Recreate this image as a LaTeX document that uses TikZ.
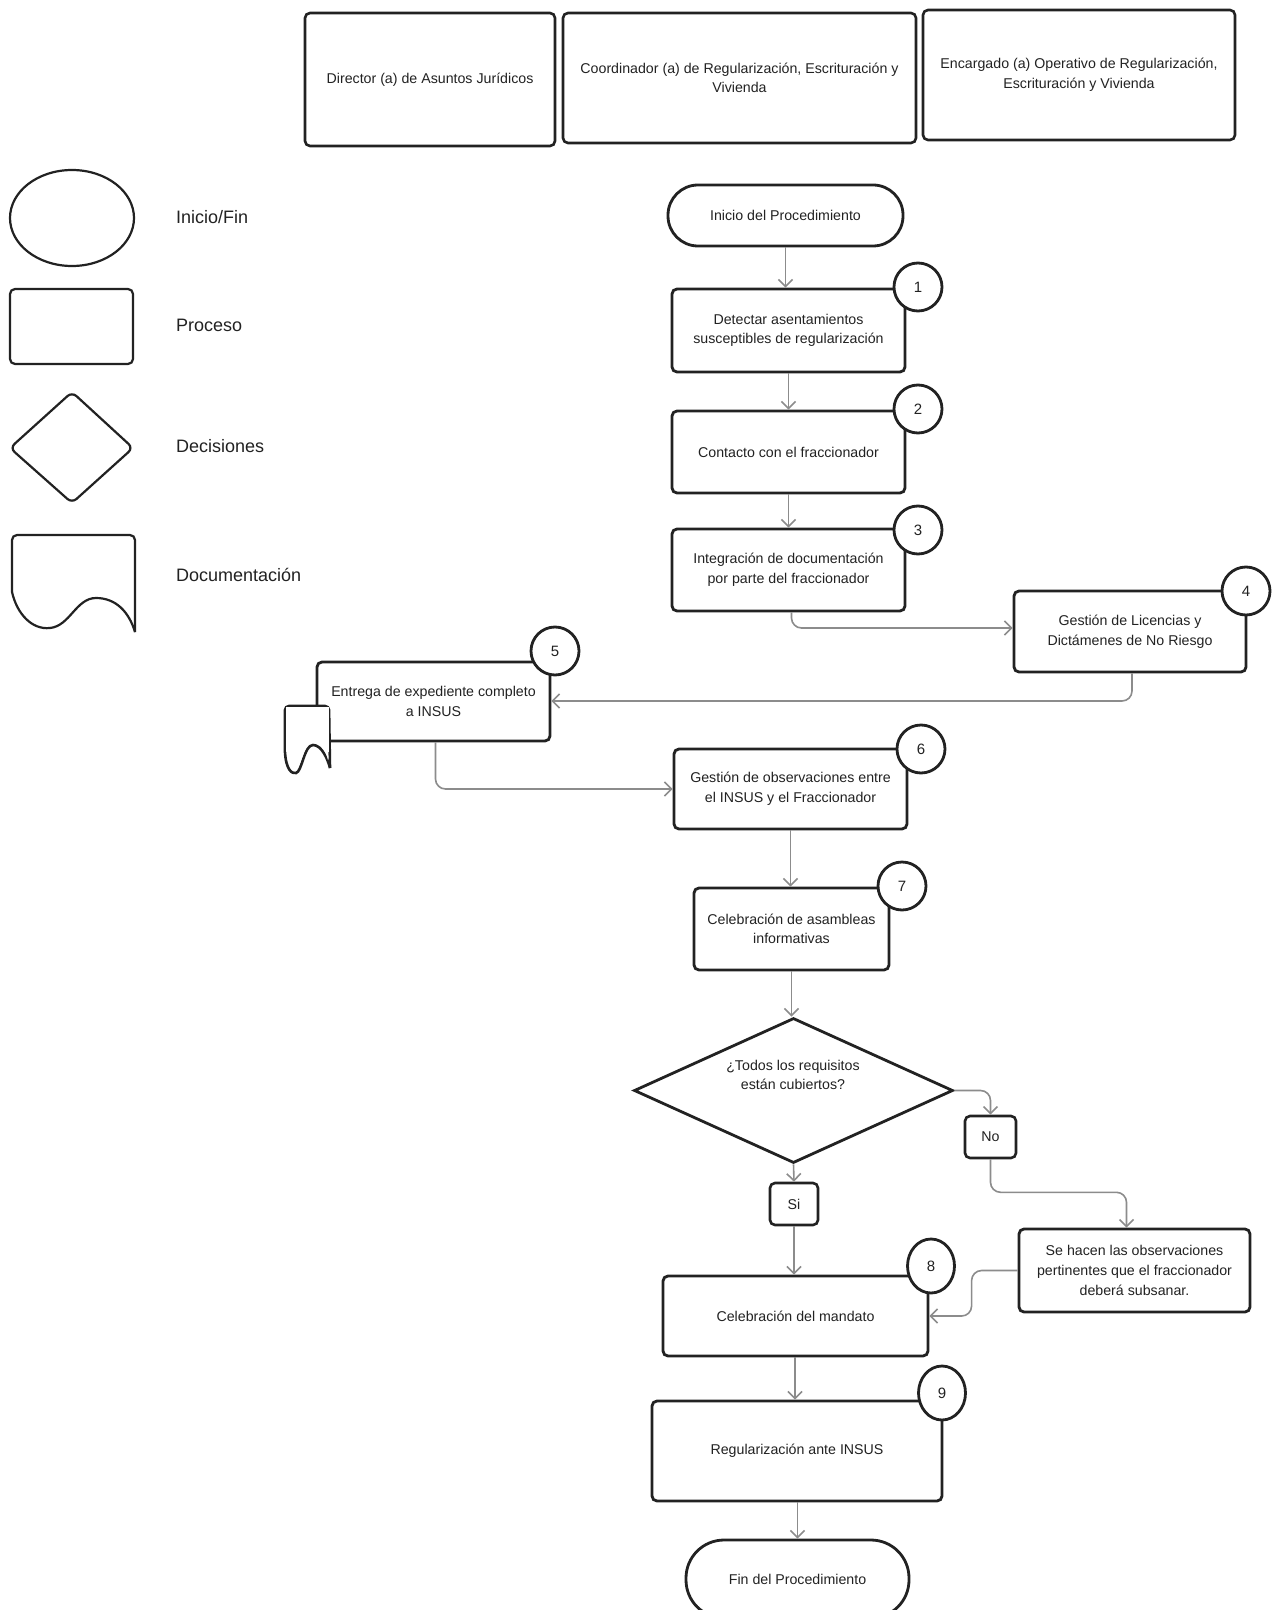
\documentclass[tikz,border=0pt]{standalone}
\usepackage{fontspec}
\setmainfont{Liberation Sans}
\usetikzlibrary{shapes.geometric,arrows.meta,calc}
\definecolor{ink}{HTML}{222222}
\definecolor{wire}{HTML}{8C8C8C}
% \mkbox[options]{name}{x1}{y1}{x2}{y2}{text}  (coordinates in pixels)
\newcommand\mkbox[7][]{%
  \pgfmathsetmacro\mkbw{(#5-#3)/2}%
  \pgfmathsetmacro\mkbh{(#6-#4)/2}%
  \node[box,minimum width=\mkbw pt,minimum height=\mkbh pt,#1] (#2) at ({(#3+#5)/2},{(#4+#6)/2}) {#7};}
\begin{document}
\begin{tikzpicture}[x=0.5pt,y=-0.5pt,
  every node/.style={font=\fontsize{7.1}{9.8}\selectfont, text=ink},
  box/.style={draw=ink, line width=1.4pt, rounded corners=2.5pt, fill=white, inner sep=0pt, align=center},
  num/.style={circle, draw=ink, line width=1.4pt, fill=white, minimum size=24pt, inner sep=0pt, font=\fontsize{7.5}{9}\selectfont},
  numo/.style={ellipse, draw=ink, line width=1.4pt, fill=white, minimum width=23.5pt, minimum height=27pt, inner sep=0pt, font=\fontsize{7.5}{9}\selectfont},
  conn/.style={draw=wire, line width=0.8pt, rounded corners=5pt, -{Straight Barb[length=3.5pt,width=7pt]}},
  leg/.style={draw=ink, line width=1.1pt},
  legtxt/.style={font=\fontsize{9}{11}\selectfont, anchor=west}
]
\useasboundingbox (0,0) rectangle (1274,1610);
\fill[white] (0,0) rectangle (1274,1610);

% ---------- header ----------
\mkbox[line width=1.3pt]{h1}{305}{13}{555}{146}{Director (a) de Asuntos Jurídicos}
\mkbox[line width=1.3pt]{h2}{563}{13}{916}{143}{Coordinador (a) de Regularización, Escrituración y\\Vivienda}
\mkbox[line width=1.3pt]{h3}{923}{10}{1235}{140}{Encargado (a) Operativo de Regularización,\\Escrituración y Vivienda}

% ---------- legend ----------
\node[ellipse, leg, minimum width=62pt, minimum height=48pt, inner sep=0pt] (lgE) at (72,218) {};
\node[legtxt] (lgEt) at (169,217) {Inicio/Fin};
\draw[leg, rounded corners=2.5pt] (10,289) rectangle (133,364);
\node[legtxt] (lgRt) at (169,325) {Proceso};
\draw[leg, rounded corners=3pt] (10,448) -- (72,392) -- (133,448) -- (72,503) -- cycle;
\node[legtxt] (lgDt) at (169,446) {Decisiones};
\draw[leg, rounded corners=2.5pt] (12,592) -- (12,535) -- (135,535) -- (135,632);
\draw[leg] (12,592) .. controls (17,614) and (32,630) .. (50,628)
           .. controls (70,626) and (76,598) .. (96,598)
           .. controls (116,598) and (129,612) .. (135,632);
\node[legtxt] (lgMt) at (169,575) {Documentación};

% ---------- flow ----------
\mkbox[rounded corners=15pt]{start}{668}{185}{903}{246}{Inicio del Procedimiento}
\mkbox{b1}{672}{289}{905}{372}{Detectar asentamientos\\susceptibles de regularización}
\mkbox{b2}{672}{411}{905}{493}{Contacto con el fraccionador}
\mkbox{b3}{672}{529}{905}{611}{Integración de documentación\\por parte del fraccionador}
\mkbox{b4}{1014}{591}{1246}{672}{Gestión de Licencias y\\Dictámenes de No Riesgo}
\mkbox{b5}{317}{662}{550}{741}{Entrega de expediente completo\\a INSUS}
% document symbol attached to step 5
\filldraw[leg, line width=1.3pt, fill=white, rounded corners=2pt] (285,752) -- (285,706) -- (329,706) -- (330,768);
\fill[white] (286,707) rectangle (329,752);
\draw[leg, line width=1.3pt, fill=white] (285,752) .. controls (286,770) and (292,774) .. (296,773)
           .. controls (302,772) and (304,745) .. (313,745)
           .. controls (322,745) and (328,760) .. (330,768);
\fill[white] (287,707) -- (287,752) .. controls (288,766) and (293,769) .. (296,769)
           .. controls (301,768) and (304,742) .. (313,742)
           .. controls (321,742) and (326,752) .. (328,760) -- (328,707) -- cycle;
\mkbox{b6}{674}{749}{907}{829}{Gestión de observaciones entre\\el INSUS y el Fraccionador}
\mkbox{b7}{694}{888}{889}{970}{Celebración de asambleas\\informativas}
\node[diamond, draw=ink, line width=1.4pt, fill=white, minimum width=159.5pt, minimum height=72.5pt, inner sep=0pt] (dec) at (793.5,1090.5) {};
\node[align=center] (dect) at (793,1075) {¿Todos los requisitos\\están cubiertos?};
\mkbox[line width=1.3pt]{no}{965}{1116}{1016}{1158}{No}
\mkbox[line width=1.3pt]{si}{770}{1183}{818}{1225}{Si}
\mkbox{obs}{1019}{1229}{1250}{1312}{Se hacen las observaciones\\pertinentes que el fraccionador\\deberá subsanar.}
\mkbox{b8}{663}{1276}{928}{1356}{Celebración del mandato}
\mkbox{b9}{652}{1401}{942}{1501}{Regularización ante INSUS}
\mkbox[rounded corners=19pt]{fin}{686}{1540}{909}{1618}{Fin del Procedimiento}

% ---------- numbers ----------
\node[num] (n1) at (918,287) {1};
\node[num] (n2) at (918,409) {2};
\node[num] (n3) at (918,530) {3};
\node[num] (n4) at (1246,591) {4};
\node[num] (n5) at (555,651) {5};
\node[num] (n6) at (921,749) {6};
\node[num] (n7) at (902,886) {7};
\node[numo] (n8) at (931,1266) {8};
\node[numo] (n9) at (942,1393) {9};

% ---------- connectors ----------
\draw[conn] (start.south) -- (start.south |- b1.north);
\draw[conn] (b1.south) -- (b1.south |- b2.north);
\draw[conn] (b2.south) -- (b2.south |- b3.north);
\draw[conn] ($(b3.south)+(3,0)$) |- (b4.west |- 0,628);
\draw[conn] ($(b4.south)+(2,0)$) |- (b5.east |- 0,701);
\draw[conn] ($(b5.south)+(2,0)$) |- (b6.west);
\draw[conn] (b6.south) -- (b6.south |- b7.north);
\draw[conn] (b7.south) -- (b7.south |- dec.north);
\draw[conn] (dec.east) -| (no.north);
\draw[conn] (no.south) -- ++(0,33) -| ($(obs.north)+(-8,0)$);
\draw[conn] (dec.south) -- (si.north);
\draw[conn] (si.south) -- (si.south |- b8.north);
\draw[conn] (obs.west) -- ++(-46,0) |- (b8.east);
\draw[conn] (b8.south -| 795,0) -- (795,0 |- b9.north);
\draw[conn] (b9.south -| fin.north) -- (fin.north);
\end{tikzpicture}
\end{document}
